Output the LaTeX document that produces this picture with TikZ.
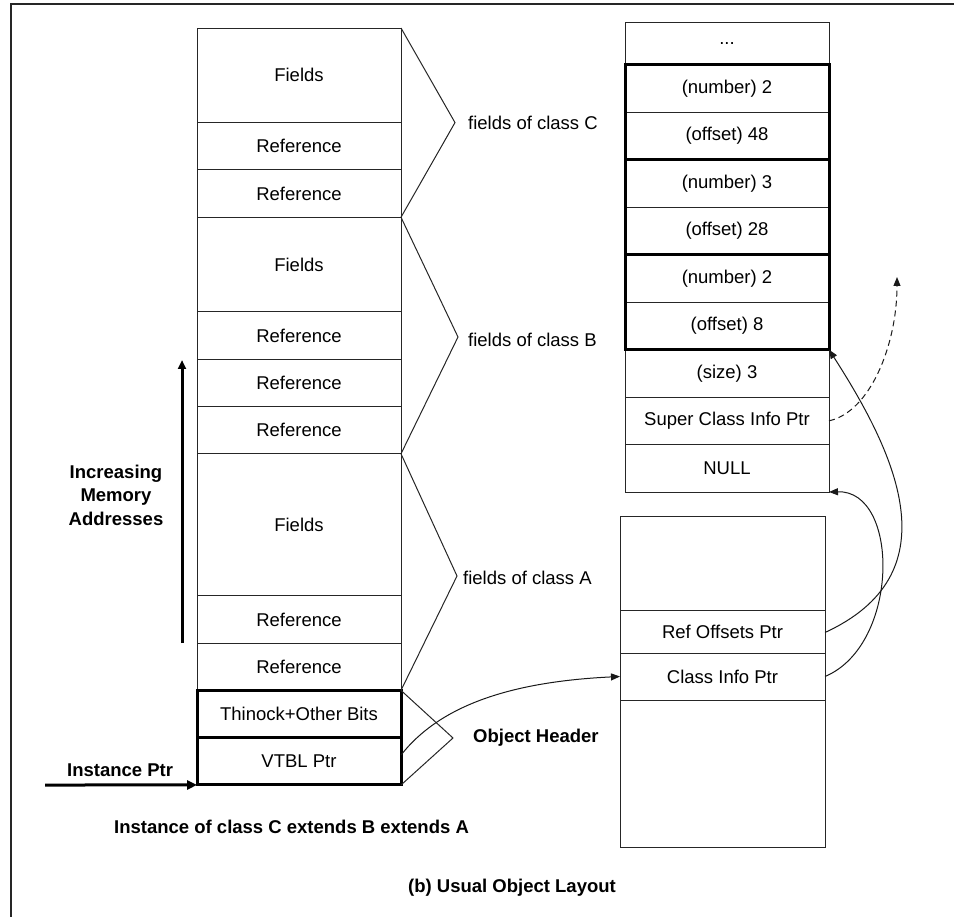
\documentclass[tikz,border=0pt]{standalone}
\usepackage{fontspec}
\setmainfont{Liberation Sans}
\usetikzlibrary{arrows.meta}
\begin{document}
\begin{tikzpicture}[x=1pt,y=-1pt,
  every node/.style={font=\fontsize{18.5}{22}\selectfont},
  cell/.style={draw=black!85, line width=1pt, minimum width=204pt, inner sep=0pt, outer sep=0pt},
  thickcell/.style={cell, draw=black, line width=3pt},
  group/.style={draw=black, line width=3pt},
  lbl/.style={inner sep=0pt, anchor=west},
  boldlbl/.style={inner sep=0pt, font=\fontsize{18.5}{23.5}\selectfont\bfseries},
  bracket/.style={draw=black!85, line width=1pt, line join=miter},
  ptr/.style={draw=black!90, line width=1pt, -{Triangle[length=9pt,width=7pt]}},
  bigarrow/.style={draw=black, line width=3pt, -{Triangle[length=10pt,width=9pt]}}
]
\useasboundingbox (0,0) rectangle (954,917);

% outer frame (top and left edges)
\draw[line width=1.6pt, black!85] (11,917) -- (11,4) -- (954,4);

% ---------- object layout (left column) ----------
\node[cell, minimum height=94.6pt] (fc)  at (299,75.31)  {Fields};
\node[cell, minimum height=47.3pt] (rc1) at (299,146.28) {Reference};
\node[cell, minimum height=47.3pt] (rc2) at (299,193.59) {Reference};
\node[cell, minimum height=94.6pt] (fb)  at (299,264.56) {Fields};
\node[cell, minimum height=47.3pt] (rb1) at (299,335.53) {Reference};
\node[cell, minimum height=47.3pt] (rb2) at (299,382.84) {Reference};
\node[cell, minimum height=47.3pt] (rb3) at (299,430.16) {Reference};
\node[cell, minimum height=142pt]  (fa)  at (299,524.78) {Fields};
\node[cell, minimum height=47.3pt] (ra1) at (299,619.41) {Reference};
\node[cell, minimum height=47.3pt] (ra2) at (299,666.72) {Reference};
\node[thickcell, minimum height=47.3pt] (hd1) at (299,714.03) {Thinock+Other Bits};
\node[thickcell, minimum height=47.3pt] (hd2) at (299,761.34) {VTBL Ptr};

% brackets grouping the fields of each class
\coordinate (tipc) at (455,122.6);
\coordinate (tipb) at (458,337);
\coordinate (tipa) at (457,576);
\coordinate (tiph) at (453,738);
\draw[bracket] (fc.north east) -- (tipc) -- (rc2.south east);
\draw[bracket] (fb.north east) -- (tipb) -- (rb3.south east);
\draw[bracket] (fa.north east) -- (tipa) -- (ra2.south east);
\draw[bracket] (hd1.north east) -- (tiph) -- (hd2.south east);

\node[lbl] (lblc) at (468,122.6) {fields of class C};
\node[lbl] (lblb) at (468,340) {fields of class B};
\node[lbl] (lbla) at (463,578) {fields of class A};
\node[boldlbl, anchor=west] (lblh) at (473,738) {Object Header};

% instance pointer
\coordinate (ipstart) at (45,785);
\draw[bigarrow] (ipstart) -- (hd2.south west);
\node[boldlbl, anchor=west] (iplbl) at (67,770) {Instance Ptr};

% memory direction
\coordinate (memlo) at (182,643);
\coordinate (memhi) at (182,360);
\draw[bigarrow, -{Triangle[length=9pt,width=8pt]}] (memlo) -- (memhi);
\node[boldlbl, align=center] (memlbl) at (116,495) {Increasing\\Memory\\Addresses};

\node[boldlbl, anchor=west] (caption1) at (114,827) {Instance of class C extends B extends A};
\node[boldlbl, anchor=west] (caption2) at (408,888) {(b) Usual Object Layout};

% ---------- reference offsets table (right column) ----------
\node[cell, minimum height=42pt]    (dots)  at (727,44)     {...};
\node[cell, minimum height=47.44pt] (n1)    at (727,88.72)  {(number) 2};
\node[cell, minimum height=47.44pt] (o1)    at (727,136.17) {(offset) 48};
\node[cell, minimum height=47.44pt] (n2)    at (727,183.61) {(number) 3};
\node[cell, minimum height=47.44pt] (o2)    at (727,231.06) {(offset) 28};
\node[cell, minimum height=47.44pt] (n3)    at (727,278.5)  {(number) 2};
\node[cell, minimum height=47.44pt] (o3)    at (727,325.94) {(offset) 8};
\node[cell, minimum height=47.44pt] (size)  at (727,373.39) {(size) 3};
\node[cell, minimum height=47.44pt] (super) at (727,420.83) {Super Class Info Ptr};
\node[cell, minimum height=47.44pt] (null)  at (727,468.28) {NULL};
\draw[group] (n1.north west) rectangle (o1.south east);
\draw[group] (n2.north west) rectangle (o2.south east);
\draw[group] (n3.north west) rectangle (o3.south east);

% ---------- class info block ----------
\node[cell, minimum width=205pt, minimum height=94pt]  (cb1)     at (722.5,563)   {};
\node[cell, minimum width=205pt, minimum height=43pt]  (refoff)  at (722.5,631.5) {Ref Offsets Ptr};
\node[cell, minimum width=205pt, minimum height=47pt]  (clsinfo) at (722.5,676.5) {Class Info Ptr};
\node[cell, minimum width=205pt, minimum height=147pt] (cb2)     at (722.5,773.5) {};

% ---------- pointers ----------
\draw[ptr] ([yshift=6.3pt]hd2.east) .. controls (438,708) and (505,682) .. (clsinfo.west);
\draw[ptr] ([yshift=-1pt]refoff.east) .. controls (950,575) and (900,460) .. (o3.south east);
\draw[ptr] (clsinfo.east) .. controls (900,645) and (900,490) .. (null.south east);
\coordinate (superup) at (897,277);
\draw[ptr, dashed, dash pattern=on 6pt off 4pt] (super.east) .. controls (870,412) and (897,345) .. (superup);

\end{tikzpicture}
\end{document}
